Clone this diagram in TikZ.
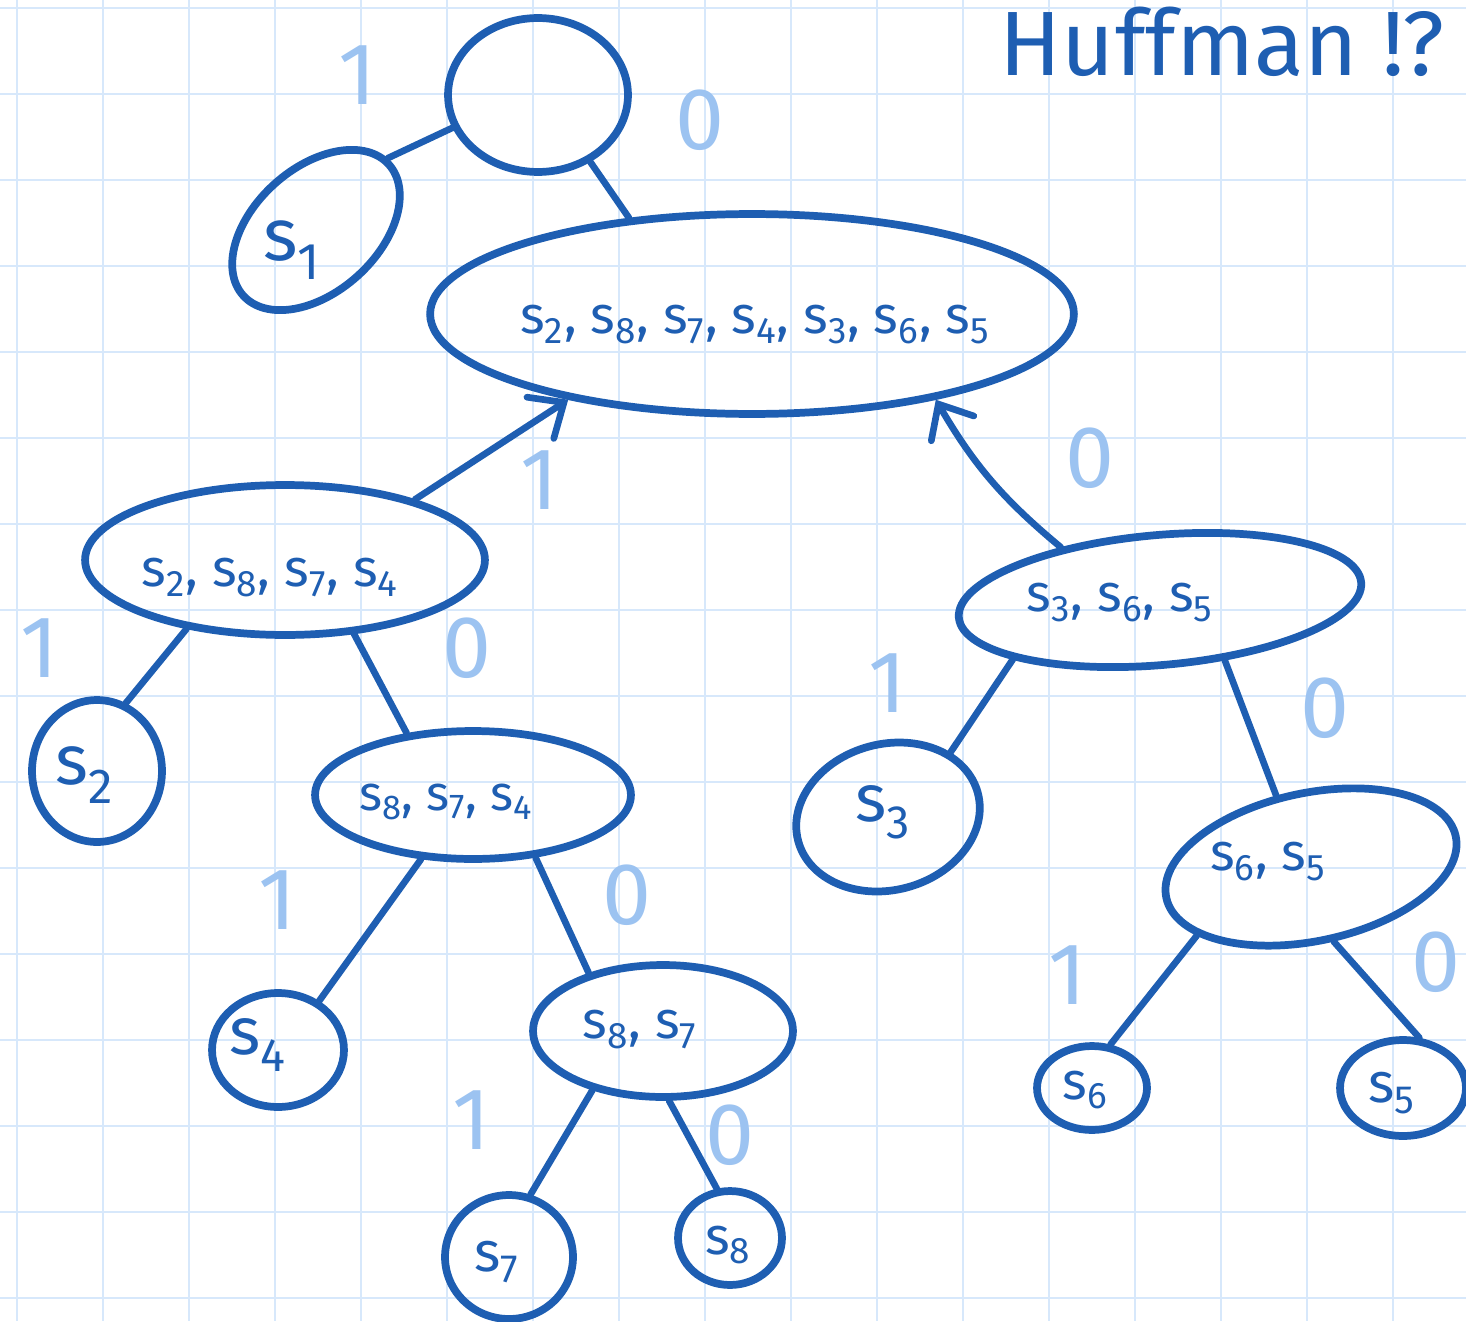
\documentclass[tikz,border=0pt]{standalone}
\usepackage{fontspec}
\setmainfont{Fira Sans}
\usetikzlibrary{shapes.geometric,arrows.meta}
\definecolor{ink}{RGB}{30,94,178}
\definecolor{pencil}{RGB}{156,195,241}
\definecolor{gridline}{RGB}{215,232,251}
\newcommand\sy[1]{s\textsubscript{#1}}
\begin{document}
\begin{tikzpicture}[x=0.02cm,y=-0.02cm,
  set/.style 2 args={ellipse, draw=ink, line width=4.4pt, inner sep=0pt,
     minimum width=#1*0.04cm, minimum height=#2*0.04cm},
  settext/.style={text=ink, inner sep=0pt, font=\fontsize{#1}{#1}\selectfont},
  settext/.default=30,
  edge/.style={draw=ink, line width=3.8pt, line cap=round},
  bit/.style={text=pencil, font=\fontsize{50}{50}\selectfont},
  barb/.style={-{Straight Barb[length=16pt,width=28pt,line cap=round]}}
]
\useasboundingbox (0,0) rectangle (1466,1321);
\fill[white] (0,0) rectangle (1466,1321);

% squared paper
\foreach \x in {17,103,...,1466} \draw[gridline, line width=1.1pt] (\x,0) -- (\x,1321);
\foreach \y in {8,94,...,1321} \draw[gridline, line width=1.1pt] (0,\y) -- (1466,\y);

% title
\node[text=ink, font=\fontsize{52}{52}\selectfont] (title) at (1222,42) {Huffman !?};

% tree nodes
\node[set={90}{77}] (root) at (538,95) {};
\node[set={98}{62}, rotate=42] (s1) at (316,230) {};
\node[set={322}{100}] (big) at (752,314) {};
\node[set={200}{75}] (lm) at (285,560) {};
\node[set={202}{65}, rotate=5] (rm) at (1160,600) {};
\node[set={65}{71}] (s2) at (97,771) {};
\node[set={158}{64}] (m3) at (473,795) {};
\node[set={93}{73}, rotate=15] (s3) at (888,817) {};
\node[set={148}{74}, rotate=12] (r2) at (1311,867) {};
\node[set={66}{57}] (s4) at (278,1050) {};
\node[set={130}{66}] (m2) at (663,1031) {};
\node[set={55}{42}] (s6) at (1092,1088) {};
\node[set={63}{48}] (s5) at (1403,1088) {};
\node[set={64}{62}] (s7) at (509,1257) {};
\node[set={52}{47}] (s8) at (730,1238) {};

% symbol sets
\node[settext=42] (s1-t) at (292,250) {\sy1};
\node[settext] (big-t) at (755,325) {\sy2, \sy8, \sy7, \sy4, \sy3, \sy6, \sy5};
\node[settext] (lm-t) at (270,578) {\sy2, \sy8, \sy7, \sy4};
\node[settext] (rm-t) at (1120,603) {\sy3, \sy6, \sy5};
\node[settext=40] (s2-t) at (85,775) {\sy2};
\node[settext=28] (m3-t) at (446,802) {\sy8, \sy7, \sy4};
\node[settext=38] (s3-t) at (883,812) {\sy3};
\node[settext] (r2-t) at (1268,862) {\sy6, \sy5};
\node[settext=38] (s4-t) at (258,1045) {\sy4};
\node[settext] (m2-t) at (640,1030) {\sy8, \sy7};
\node[settext=30] (s6-t) at (1085,1090) {\sy6};
\node[settext=32] (s5-t) at (1392,1093) {\sy5};
\node[settext=32] (s7-t) at (497,1262) {\sy7};
\node[settext=30] (s8-t) at (728,1245) {\sy8};

% branches
\draw[edge] (root.201) -- (s1.3);
\draw[edge] (root.308) -- (big.142);
\draw[edge, barb] (lm.25) -- (big.205);
\draw[edge, barb] (rm.147) to[bend left=10] (big.335);
\draw[edge] (lm.215) -- (s2.67);
\draw[edge] (lm.313) -- (m3.137);
\draw[edge] (rm.197) -- (s3.31);
\draw[edge] (rm.312) -- (r2.104);
\draw[edge] (m3.231) -- (s4.50);
\draw[edge] (m3.315) -- (m2.142);
\draw[edge] (r2.199) -- (s6.67);
\draw[edge] (r2.275) -- (s5.72);
\draw[edge] (m2.220) -- (s7.71);
\draw[edge] (m2.275) -- (s8.105);

% code bits
\node[bit] (b-root-1) at (358,75) {1};
\node[bit] (b-root-0) at (700,120) {0};
\node[bit] (b-big-1) at (540,480) {1};
\node[bit] (b-big-0) at (1090,458) {0};
\node[bit] (b-lm-1) at (40,648) {1};
\node[bit] (b-lm-0) at (467,648) {0};
\node[bit] (b-rm-1) at (888,683) {1};
\node[bit] (b-rm-0) at (1325,708) {0};
\node[bit] (b-m3-1) at (278,900) {1};
\node[bit] (b-m3-0) at (627,895) {0};
\node[bit] (b-r2-1) at (1068,975) {1};
\node[bit] (b-r2-0) at (1436,962) {0};
\node[bit] (b-m2-1) at (472,1120) {1};
\node[bit] (b-m2-0) at (730,1135) {0};
\end{tikzpicture}
\end{document}
